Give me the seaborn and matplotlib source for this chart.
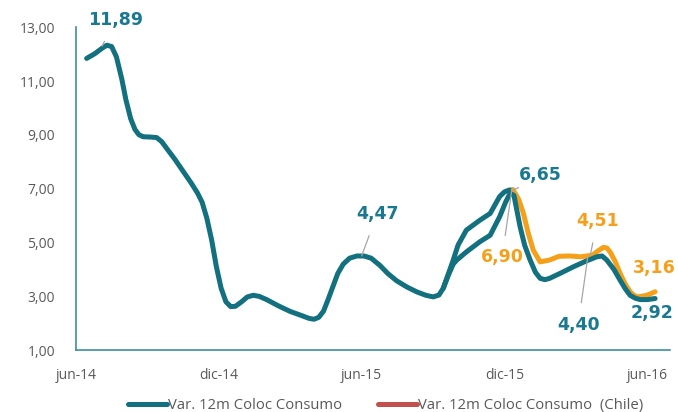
import matplotlib
matplotlib.use("Agg")
import matplotlib.pyplot as plt
import seaborn as sns
import pandas as pd
from matplotlib.lines import Line2D

# ---- data (x = months since jun-14) ----
main_x = [0.45, 0.8, 1.1, 1.3, 1.5, 1.7, 1.92, 2.1, 2.3, 2.48, 2.65, 2.83, 3.1, 3.39,
          3.6, 3.81, 4.15, 4.5, 4.85, 5.1, 5.3, 5.5, 5.7, 5.9, 6.1, 6.3, 6.5, 6.7,
          6.96, 7.2, 7.45, 7.7, 8.01, 8.5, 9.0, 9.5, 9.8, 10.0, 10.2, 10.4, 10.6,
          10.81, 11.0, 11.23, 11.5, 11.8, 12.1, 12.4, 12.77, 13.1, 13.47, 13.9, 14.31,
          14.7, 15.01, 15.25, 15.43, 15.65, 15.85, 16.0, 16.4, 16.97, 17.4, 17.8,
          18.05, 18.24, 18.4, 18.66, 18.85, 19.08, 19.3, 19.5, 19.7, 19.9, 20.4,
          20.9, 21.4, 21.88, 22.1, 22.3, 22.6, 22.86, 23.08, 23.28, 23.5, 23.7,
          24.0, 24.33]
main_y = [11.84, 12.02, 12.22, 12.33, 12.28, 11.9, 11.1, 10.3, 9.6, 9.2, 9.0, 8.93,
          8.92, 8.9, 8.75, 8.5, 8.1, 7.65, 7.2, 6.85, 6.5, 5.9, 5.1, 4.1, 3.3, 2.8,
          2.62, 2.63, 2.8, 2.98, 3.04, 3.0, 2.88, 2.65, 2.44, 2.28, 2.18, 2.15, 2.22,
          2.45, 2.9, 3.4, 3.85, 4.2, 4.42, 4.5, 4.5, 4.42, 4.15, 3.85, 3.58, 3.35,
          3.17, 3.04, 2.98, 3.05, 3.3, 3.8, 4.2, 4.35, 4.65, 5.03, 5.27, 5.96, 6.5,
          6.83, 6.75, 5.58, 4.9, 4.35, 3.9, 3.67, 3.62, 3.67, 3.88, 4.1, 4.3, 4.47,
          4.5, 4.35, 4.0, 3.6, 3.28, 3.04, 2.93, 2.88, 2.88, 2.92]

chile_x = [15.43, 15.65, 15.85, 16.05, 16.4, 16.97, 17.4, 17.8, 18.0, 18.2, 18.37]
chile_y = [3.3, 3.85, 4.35, 4.9, 5.46, 5.83, 6.08, 6.71, 6.88, 6.95, 6.95]

proj_x = [18.37, 18.6, 18.8, 19.0, 19.21, 19.5, 19.9, 20.3, 20.75, 21.2, 21.7, 21.95,
          22.16, 22.3, 22.44, 22.65, 22.86, 23.08, 23.28, 23.45, 23.63, 23.98, 24.33]
proj_y = [6.95, 6.6, 6.08, 5.35, 4.72, 4.28, 4.35, 4.49, 4.5, 4.47, 4.53, 4.7, 4.82,
          4.8, 4.65, 4.3, 3.85, 3.45, 3.17, 3.03, 2.98, 3.04, 3.17]

tick_pos = [0, 6, 12, 18, 24]
tick_labels = ["jun-14", "dic-14", "jun-15", "dic-15", "jun-16"]
ytick_vals = [1, 3, 5, 7, 9, 11, 13]
legend_labels = ["Var. 12m Coloc Consumo", "Var. 12m Coloc Consumo  (Chile)"]

TEAL = "#12707f"
TEAL_TXT = "#1a7891"
ORANGE = "#f5a01a"
RED = "#c0504d"
AXIS = "#3d8fa0"
GRAY = "#595959"

sns.set_style("white")
plt.rcParams["font.family"] = ["Open Sans", "DejaVu Sans"]

fig = plt.figure(figsize=(6.78, 4.12), dpi=100)
ax = fig.add_axes([0.112, 0.150, 0.876, 0.784])

df_main = pd.DataFrame({"x": main_x, "y": main_y})
df_chile = pd.DataFrame({"x": chile_x, "y": chile_y})
df_proj = pd.DataFrame({"x": proj_x, "y": proj_y})

lw = 3.6
kw = dict(sort=False, estimator=None, solid_capstyle="round", solid_joinstyle="round")
sns.lineplot(data=df_chile, x="x", y="y", ax=ax, color=TEAL, lw=lw, **kw)
sns.lineplot(data=df_proj, x="x", y="y", ax=ax, color=ORANGE, lw=lw, **kw)
sns.lineplot(data=df_main, x="x", y="y", ax=ax, color=TEAL, lw=lw, **kw)

ax.set_xlim(0, 24.95)
ax.set_ylim(1, 13)
ax.set_xticks(tick_pos)
ax.set_xticklabels(tick_labels)
ax.set_yticks(ytick_vals)
ax.set_yticklabels([f"{v:.2f}".replace(".", ",") for v in ytick_vals])
ax.set_xlabel("")
ax.set_ylabel("")
for s in ["top", "right"]:
    ax.spines[s].set_visible(False)
for s in ["left", "bottom"]:
    ax.spines[s].set_color(AXIS)
    ax.spines[s].set_linewidth(1.2)
ax.tick_params(axis="x", length=5, width=1.2, color=AXIS, direction="out",
               labelsize=10, labelcolor=GRAY, pad=8)
ax.tick_params(axis="y", length=0, labelsize=10, labelcolor=GRAY, pad=15)
ax.grid(False)

# ---- data labels with leader lines ----
def lab(txt, xy_text, xy_pt, color, leader=True):
    ax.annotate(txt, xy=xy_pt, xytext=xy_text, textcoords="data", color=color,
                fontsize=12.5, fontweight="bold", ha="center", va="center",
                family=["DejaVu Sans"],
                arrowprops=dict(arrowstyle="-", color="#a6a6a6", lw=0.9,
                                shrinkA=7, shrinkB=0) if leader else None)

lab("11,89", (1.65, 13.25), (1.1, 12.3), TEAL_TXT)
lab("4,47", (12.65, 6.05), (12.0, 4.5), TEAL_TXT)
lab("6,65", (19.5, 7.5), (18.3, 6.9), TEAL_TXT)
lab("6,90", (17.9, 4.45), (18.3, 6.9), ORANGE)
lab("4,51", (21.9, 5.8), (21.6, 4.5), ORANGE)
lab("4,40", (21.1, 1.95), (21.5, 4.45), TEAL_TXT)
lab("3,16", (24.3, 4.05), (24.3, 3.17), ORANGE, leader=False)
lab("2,92", (24.2, 2.38), (24.2, 2.92), TEAL_TXT, leader=False)

handles = [Line2D([0], [0], color=TEAL, lw=3.6), Line2D([0], [0], color=RED, lw=3.6)]
fig.legend(handles, legend_labels, loc="lower center", bbox_to_anchor=(0.569, -0.035),
           ncol=2, frameon=False, fontsize=10.7, handlelength=2.6, handletextpad=0.1,
           columnspacing=2.4, labelcolor=GRAY)

fig.savefig("out.png", dpi=100)
